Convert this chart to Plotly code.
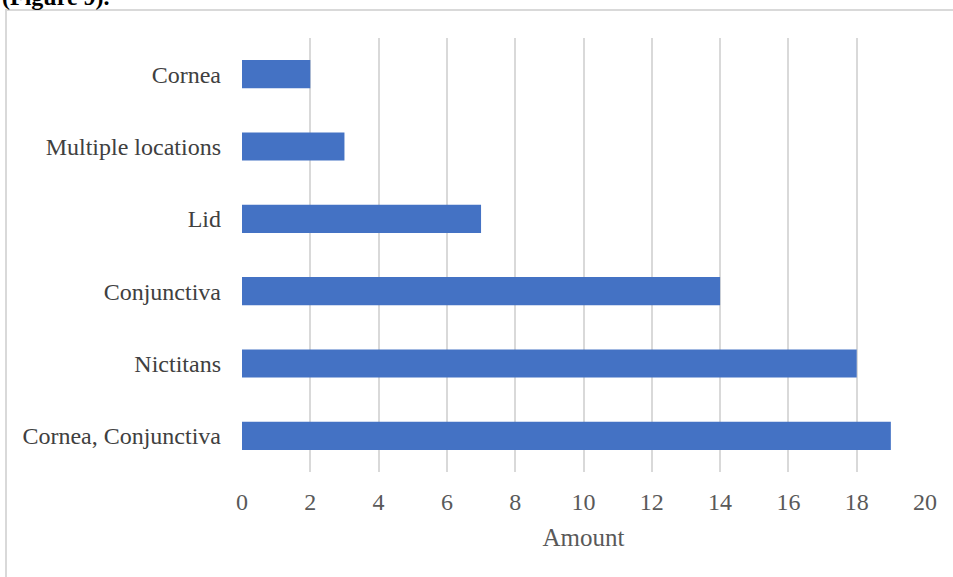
import plotly.graph_objects as go

# Lesion locations and their counts (top to bottom as displayed)
locations = ["Cornea", "Multiple locations", "Lid", "Conjunctiva", "Nictitans", "Cornea, Conjunctiva"]
amounts = [2, 3, 7, 14, 18, 19]
x_ticks = [0, 2, 4, 6, 8, 10, 12, 14, 16, 18, 20]

W, H = 953, 577
L, R, T, B = 242, 28, 38, 105
pw, ph = W - L - R, H - T - B

def px_x(p):
    return (p - L) / pw

def px_y(p):
    return (H - B - p) / ph

fig = go.Figure(
    go.Bar(
        x=amounts,
        y=locations,
        orientation="h",
        marker=dict(color="#4472C4", line=dict(width=0)),
        width=0.39,
    )
)

serif = "Liberation Serif, Times New Roman, serif"

fig.update_layout(
    width=W,
    height=H,
    margin=dict(l=L, r=R, t=T, b=B),
    paper_bgcolor="white",
    plot_bgcolor="white",
    showlegend=False,
    font=dict(family=serif, color="#595959", size=24),
    xaxis=dict(
        range=[0, 20],
        tickvals=x_ticks,
        showgrid=True,
        gridcolor="#D9D9D9",
        gridwidth=2,
        zeroline=False,
        showline=False,
        ticks="",
        ticklabelstandoff=13,
        tickfont=dict(size=24, color="#595959", family=serif),
        title=dict(text="Amount", font=dict(size=25, color="#595959", family=serif), standoff=14),
    ),
    yaxis=dict(
        categoryorder="array",
        categoryarray=locations[::-1],
        showgrid=False,
        zeroline=False,
        showline=False,
        ticks="",
        ticklabelstandoff=20,
        tickfont=dict(size=24, color="#404040", family=serif),
    ),
    shapes=[
        dict(
            type="rect",
            xref="paper",
            yref="paper",
            x0=px_x(6),
            x1=px_x(W + 20),
            y0=px_y(H + 20),
            y1=px_y(10),
            line=dict(color="#D9D9D9", width=2),
            fillcolor="rgba(0,0,0,0)",
            layer="below",
        )
    ],
    annotations=[
        dict(
            text="<b>(Figure 9).</b>",
            xref="paper",
            yref="paper",
            x=px_x(0),
            y=px_y(12),
            xanchor="left",
            yanchor="bottom",
            showarrow=False,
            font=dict(size=24, color="black", family=serif),
        )
    ],
)

fig.write_html("out.html")
